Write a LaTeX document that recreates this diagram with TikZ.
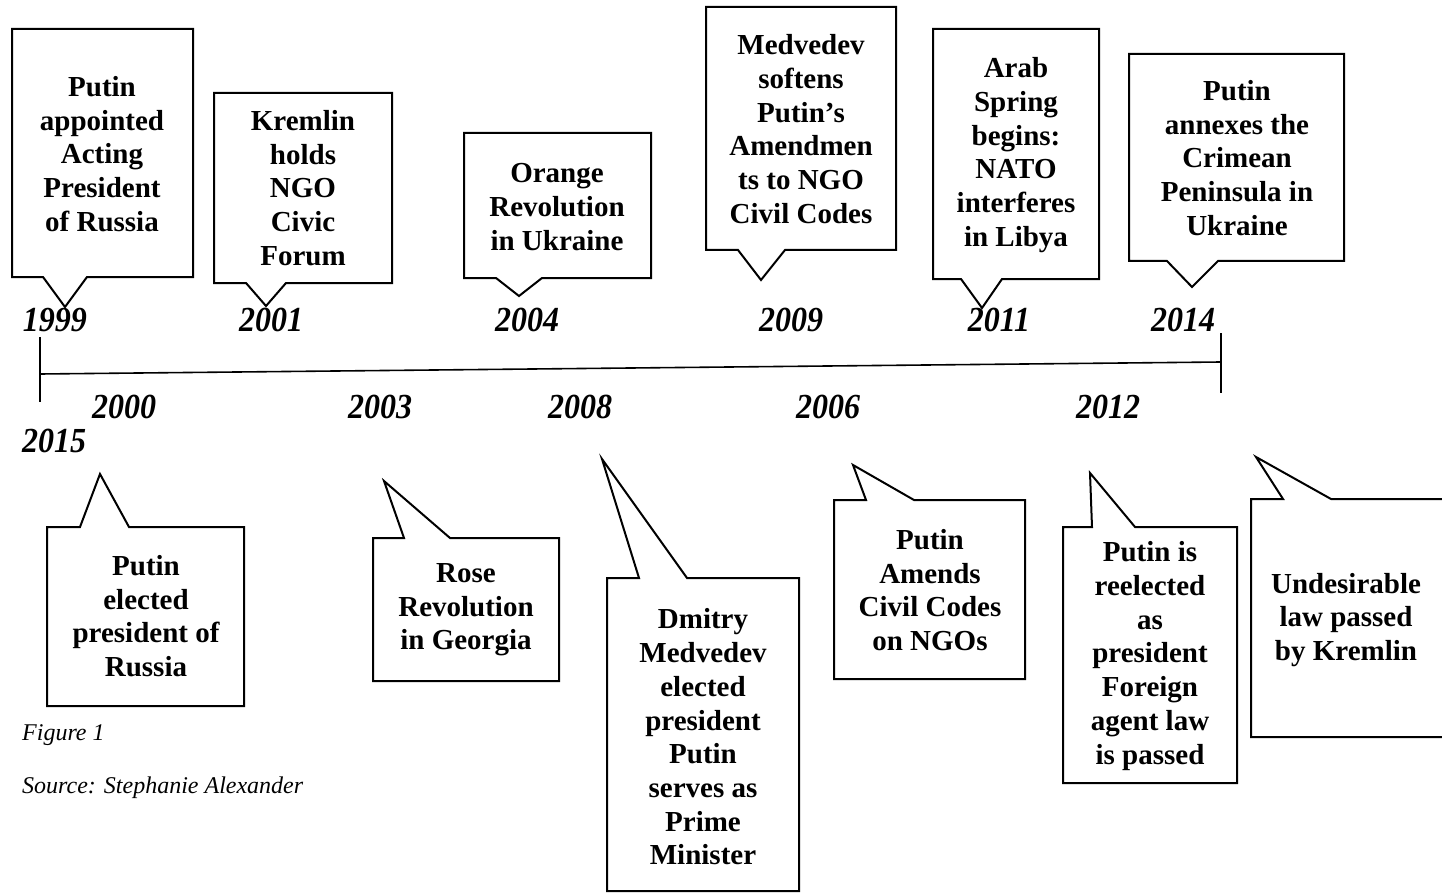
\documentclass[tikz,border=0pt]{standalone}
\usepackage{fontspec}
\usepackage{graphicx}
\setmainfont{Liberation Serif}
\newcommand{\tallyr}[1]{\scalebox{1}[1.1]{#1}}
\begin{document}
\begin{tikzpicture}[x=1pt,y=-1pt,
  bubble/.style={draw=black,line width=2pt,fill=white,line join=miter},
  evtxt/.style={align=center,inner sep=0pt,font=\fontsize{29}{33.7}\selectfont\bfseries},
  yr/.style={inner sep=0pt,font=\fontsize{32}{36}\selectfont\bfseries\itshape},
  captxt/.style={inner sep=0pt,anchor=west,font=\fontsize{24}{28}\selectfont\itshape},
  axis/.style={line width=1.6pt},
  tickline/.style={line width=1.3pt}]
\useasboundingbox (0,0) rectangle (1442,893);
\clip (0,0) rectangle (1442,893);
% timeline
\coordinate (tl) at (40,374);
\coordinate (tr) at (1221,362);
\coordinate (tlt) at (40,337);
\coordinate (tlb) at (40,402);
\coordinate (trt) at (1221,333);
\coordinate (trb) at (1221,393);
\draw[axis] (tl) -- (tr);
\draw[tickline] (tlt) -- (tlb);
\draw[tickline] (trt) -- (trb);
% upper callouts
\draw[bubble] (12,29) -- (193,29) -- (193,277) -- (87,277) -- (65,307) -- (43,277) -- (12,277) -- cycle;
\draw[bubble] (214,93) -- (392,93) -- (392,283) -- (286,283) -- (266,306) -- (246,283) -- (214,283) -- cycle;
\draw[bubble] (464,133) -- (651,133) -- (651,278) -- (542,278) -- (519,296) -- (496,278) -- (464,278) -- cycle;
\draw[bubble] (706,7) -- (896,7) -- (896,250) -- (785,250) -- (761,280) -- (738,250) -- (706,250) -- cycle;
\draw[bubble] (933,29) -- (1099,29) -- (1099,279) -- (1002,279) -- (982,308) -- (961,279) -- (933,279) -- cycle;
\draw[bubble] (1129,54) -- (1344,54) -- (1344,261) -- (1218,261) -- (1192,287) -- (1167,261) -- (1129,261) -- cycle;
% lower callouts
\draw[bubble] (47,527) -- (80,527) -- (100,474) -- (129,527) -- (244,527) -- (244,706) -- (47,706) -- cycle;
\draw[bubble] (373,538) -- (404,538) -- (384,481) -- (450,538) -- (559,538) -- (559,681) -- (373,681) -- cycle;
\draw[bubble] (607,578) -- (639,578) -- (602,459) -- (687,578) -- (799,578) -- (799,891) -- (607,891) -- cycle;
\draw[bubble] (834,500) -- (866,500) -- (853,465) -- (914,500) -- (1025,500) -- (1025,679) -- (834,679) -- cycle;
\draw[bubble] (1063,527) -- (1092,527) -- (1090,473) -- (1135,527) -- (1237,527) -- (1237,783) -- (1063,783) -- cycle;
\draw[bubble] (1251,499) -- (1283,499) -- (1256,457) -- (1331,499) -- (1462,499) -- (1462,737) -- (1251,737) -- cycle;
% texts upper
\node[evtxt] (e1999) at (102,154) {Putin\\appointed\\Acting\\President\\of Russia};
\node[evtxt] (e2001) at (303,188) {Kremlin\\holds\\NGO\\Civic\\Forum};
\node[evtxt] (e2004) at (557,207) {Orange\\Revolution\\in Ukraine};
\node[evtxt] (e2009) at (801,129) {Medvedev\\softens\\Putin’s\\Amendmen\\ts to NGO\\Civil Codes};
\node[evtxt] (e2011) at (1016,155) {Arab\\Spring\\begins:\\NATO\\interferes\\in Libya};
\node[evtxt] (e2014) at (1237,158) {Putin\\annexes the\\Crimean\\Peninsula in\\Ukraine};
% texts lower
\node[evtxt] (e2000) at (146,616) {Putin\\elected\\president of\\Russia};
\node[evtxt] (e2003) at (466,610) {Rose\\Revolution\\in Georgia};
\node[evtxt] (e2008) at (703,737) {Dmitry\\Medvedev\\elected\\president\\Putin\\serves as\\Prime\\Minister};
\node[evtxt] (e2006) at (930,590) {Putin\\Amends\\Civil Codes\\on NGOs};
\node[evtxt] (e2012) at (1150,656) {Putin is\\reelected\\as\\president\\Foreign\\agent law\\is passed};
\node[evtxt] (e2015) at (1346,620) {Undesirable\\law passed\\by Kremlin};
% years
\node[yr] (y1999) at (55,320) {\tallyr{1999}};
\node[yr] (y2001) at (271,320) {\tallyr{2001}};
\node[yr] (y2004) at (527,320) {\tallyr{2004}};
\node[yr] (y2009) at (791,320) {\tallyr{2009}};
\node[yr] (y2011) at (999,320) {\tallyr{2011}};
\node[yr] (y2014) at (1183,320) {\tallyr{2014}};
\node[yr] (y2000) at (124,407) {\tallyr{2000}};
\node[yr] (y2003) at (380,407) {\tallyr{2003}};
\node[yr] (y2008) at (580,407) {\tallyr{2008}};
\node[yr] (y2006) at (828,407) {\tallyr{2006}};
\node[yr] (y2012) at (1108,407) {\tallyr{2012}};
\node[yr] (y2015) at (54,441) {\tallyr{2015}};
% caption
\node[captxt] (fig) at (22,735) {Figure 1};
\node[captxt] (src) at (22,788) {Source: Stephanie Alexander};
\end{tikzpicture}
\end{document}
